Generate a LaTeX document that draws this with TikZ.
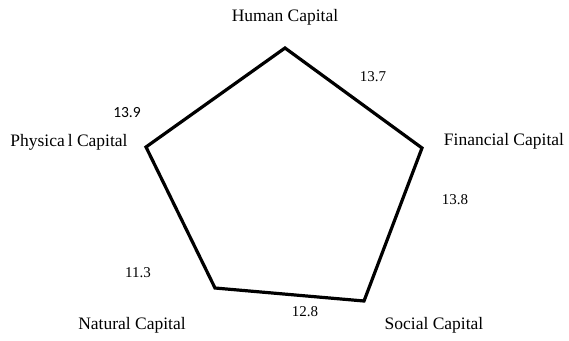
\documentclass[tikz,border=0pt]{standalone}
\usepackage{fontspec}
\setmainfont{Liberation Serif}
\newfontfamily\calib{Carlito}
\begin{document}
\begin{tikzpicture}[x=1pt,y=-1pt,
  lbl/.style={font=\fontsize{17.5}{20}\selectfont, inner sep=0pt},
  val/.style={font=\fontsize{15}{18}\selectfont, inner sep=0pt},
  edge/.style={line width=3.2pt, line join=miter, black}]
\useasboundingbox (0,0) rectangle (569,340);
\coordinate (H) at (285,48);
\coordinate (F) at (422,148);
\coordinate (S) at (364,301);
\coordinate (N) at (215,288);
\coordinate (P) at (146,147);
\draw[edge] (H) -- (F) -- (S) -- (N) -- (P) -- cycle;
\node[lbl] (hl) at (285,17) {Human Capital};
\node[lbl] (pl) at (69,142) {Physica\,l Capital};
\node[lbl] (fl) at (504,141) {Financial Capital};
\node[lbl] (nl) at (132,325) {Natural Capital};
\node[lbl] (sl) at (434,325) {Social Capital};
\node[val, font=\calib\fontsize{15.5}{18}\selectfont] (v1) at (127,113) {13.9};
\node[val] (v2) at (373,77) {13.7};
\node[val] (v3) at (455,200) {13.8};
\node[val] (v4) at (138,273) {11.3};
\node[val] (v5) at (305,312) {12.8};
\end{tikzpicture}
\end{document}
